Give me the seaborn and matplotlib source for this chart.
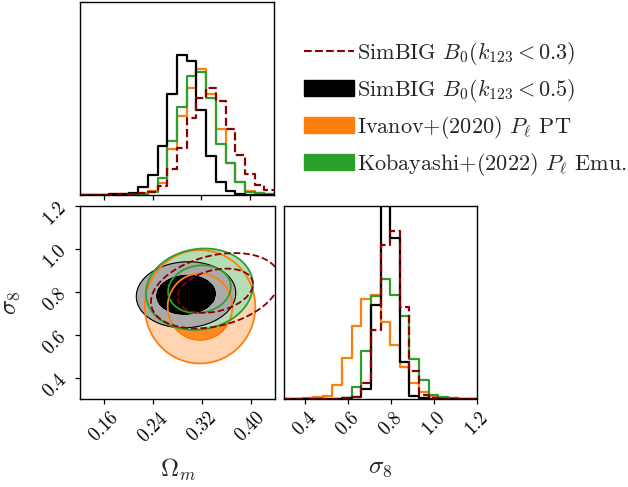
import numpy as np
import matplotlib
matplotlib.use("Agg")
import matplotlib.pyplot as plt
import seaborn as sns
from matplotlib.lines import Line2D
from matplotlib.patches import Patch

sns.set_style("ticks")
plt.rcParams["font.family"] = ["cmr10", "DejaVu Serif"]
plt.rcParams["mathtext.fontset"] = "cm"
plt.rcParams["axes.formatter.use_mathtext"] = True
plt.rcParams["axes.edgecolor"] = "black"
plt.rcParams["xtick.color"] = "black"
plt.rcParams["ytick.color"] = "black"
plt.rcParams["axes.linewidth"] = 1.0

# ---- data ----
om_range = (0.12, 0.44)
s8_range = (0.30, 1.20)
n_bins = 20

labels = [r"SimBIG $B_0(k_{123} < 0.3)$", r"SimBIG $B_0(k_{123} < 0.5)$",
          r"Ivanov+(2020) $P_\ell$ PT", r"Kobayashi+(2022) $P_\ell$ Emu."]
colors = {"k03": "darkred", "k05": "black", "ivanov": "#ff7f0e", "kobayashi": "#2ca02c"}
fill_colors = {"k05": ["#aaaaaa", "black"], "ivanov": ["#ffd4b0", "#ff8a22"],
               "kobayashi": ["#b5ddb5", "#b5ddb5"]}

# Omega_m marginal (counts per bin, arbitrary units)
om_hist_k05 = [0, 0, 1, 2, 4, 5, 23, 61, 147, 304, 421, 403, 256, 118, 40, 11, 3, 1, 0, 0]
om_hist_kobayashi = [0, 0, 0, 0, 1, 2, 3, 10, 52, 161, 265, 356, 370, 290, 153, 96, 38, 10, 5, 2]
om_hist_ivanov = [1, 1, 1, 2, 3, 4, 6, 12, 35, 138, 237, 320, 378, 302, 197, 95, 40, 13, 5, 2]
om_hist_k03 = [1, 1, 1, 1, 2, 3, 5, 8, 28, 77, 140, 230, 292, 320, 283, 197, 120, 64, 29, 15]

# sigma_8 marginal
s8_hist_ivanov = [0, 0, 2, 5, 10, 43, 123, 220, 300, 312, 232, 163, 95, 48, 22, 10, 4, 2, 0, 0]
s8_hist_kobayashi = [0, 0, 0, 0, 1, 1, 3, 35, 143, 308, 360, 312, 248, 120, 57, 13, 5, 2, 0, 0]
s8_hist_k05 = [0, 0, 0, 0, 0, 1, 3, 5, 30, 282, 680, 482, 112, 8, 3, 1, 0, 0, 0, 0]
s8_hist_k03 = [0, 0, 0, 0, 0, 1, 2, 5, 48, 207, 462, 502, 277, 83, 12, 3, 1, 0, 0, 0]

# 2D posteriors approximated as gaussians: (mean_om, mean_s8), (sig_om, sig_s8), rho
post_ivanov = ((0.317, 0.730), (0.0382, 0.1114), 0.0)
post_kobayashi = ((0.316, 0.812), (0.0370, 0.0800), 0.1)
post_k05 = ((0.294, 0.786), (0.0344, 0.0649), 0.05)
post_k03 = ((0.342, 0.805), (0.0445, 0.0740), 0.3)
contour_mass = [0.94, 0.62]

om_ticks = [0.16, 0.24, 0.32, 0.40]
s8_ticks = [0.4, 0.6, 0.8, 1.0, 1.2]

# ---- figure ----
W, H = 628, 487
fig = plt.figure(figsize=(W / 100, H / 100), dpi=100)
ax_top = fig.add_axes([80 / W, (H - 195) / H, 194 / W, 193 / H])
ax_2d = fig.add_axes([80 / W, (H - 399) / H, 195 / W, 193 / H])
ax_right = fig.add_axes([284 / W, (H - 399) / H, 193 / W, 193 / H])

om_centers = np.linspace(*om_range, n_bins + 1)[:-1] + (om_range[1] - om_range[0]) / n_bins / 2
s8_centers = np.linspace(*s8_range, n_bins + 1)[:-1] + (s8_range[1] - s8_range[0]) / n_bins / 2


def hist(ax, centers, weights, brange, key, dashed=False):
    sns.histplot(x=centers, weights=weights, bins=n_bins, binrange=brange, element="step",
                 fill=False, color=colors[key], linewidth=1.6,
                 linestyle="--" if dashed else "-", ax=ax)


hist(ax_top, om_centers, om_hist_ivanov, om_range, "ivanov")
hist(ax_top, om_centers, om_hist_kobayashi, om_range, "kobayashi")
hist(ax_top, om_centers, om_hist_k05, om_range, "k05")
hist(ax_top, om_centers, om_hist_k03, om_range, "k03", dashed=True)

hist(ax_right, s8_centers, s8_hist_ivanov, s8_range, "ivanov")
hist(ax_right, s8_centers, s8_hist_kobayashi, s8_range, "kobayashi")
hist(ax_right, s8_centers, s8_hist_k05, s8_range, "k05")
hist(ax_right, s8_centers, s8_hist_k03, s8_range, "k03", dashed=True)

for ax in (ax_top, ax_right):
    ax.set_yticks([])
    ax.set_ylabel("")
    ax.set_xlabel("")
ax_top.set_xlim(*om_range)
ax_top.set_ylim(0, 579)
ax_top.set_xticks(om_ticks)
ax_top.set_xticklabels([])
ax_right.set_xlim(*s8_range)
ax_right.set_ylim(0, 578)
ax_right.set_xticks(s8_ticks)

# 2D contours
om_grid = np.linspace(*om_range, 300)
s8_grid = np.linspace(*s8_range, 300)
X, Y = np.meshgrid(om_grid, s8_grid)


def density(post):
    (mx, my), (sx, sy), rho = post
    dx = (X - mx) / sx
    dy = (Y - my) / sy
    q = (dx ** 2 - 2 * rho * dx * dy + dy ** 2) / (1 - rho ** 2)
    return np.exp(-0.5 * q)


levels = [1 - m for m in contour_mass]
for post, key in [(post_ivanov, "ivanov"), (post_kobayashi, "kobayashi"), (post_k05, "k05")]:
    ax_2d.contourf(X, Y, density(post), levels=levels + [1.01], colors=fill_colors[key])

ax_2d.contour(X, Y, density(post_k05), levels=levels, colors="black", linewidths=0.8)
ax_2d.contour(X, Y, density(post_ivanov), levels=levels, colors=colors["ivanov"], linewidths=1.3)
ax_2d.contour(X, Y, density(post_kobayashi), levels=levels, colors=colors["kobayashi"], linewidths=1.3)
ax_2d.contour(X, Y, density(post_k03), levels=levels, colors=colors["k03"], linewidths=1.3,
              linestyles="--")

ax_2d.set_xlim(*om_range)
ax_2d.set_ylim(*s8_range)
ax_2d.set_xticks(om_ticks)
ax_2d.set_yticks(s8_ticks)

for ax in (ax_2d, ax_right):
    for lab in ax.get_xticklabels():
        lab.set_rotation(45)
for lab in ax_2d.get_yticklabels():
    lab.set_rotation(45)
for ax in (ax_top, ax_2d, ax_right):
    ax.tick_params(labelsize=13.5, length=3.5, width=0.9)

ax_2d.set_xlabel(r"$\Omega_m$", fontsize=18)
ax_2d.set_ylabel(r"$\sigma_8$", fontsize=18)
ax_right.set_xlabel(r"$\sigma_8$", fontsize=18)
ax_2d.xaxis.set_label_coords(0.5, -0.3)
ax_2d.yaxis.set_label_coords(-0.3, 0.5)
ax_right.xaxis.set_label_coords(0.5, -0.3)

handles = [Line2D([], [], color=colors["k03"], ls="--", lw=1.5),
           Patch(color=colors["k05"]), Patch(color=colors["ivanov"]), Patch(color=colors["kobayashi"])]
fig.legend(handles, labels, loc="upper left", bbox_to_anchor=(284 / W, 1 - 20 / H),
           frameon=False, fontsize=16, handlelength=2.25, handletextpad=0.15, labelspacing=0.45)

fig.savefig("out.png", dpi=100)
